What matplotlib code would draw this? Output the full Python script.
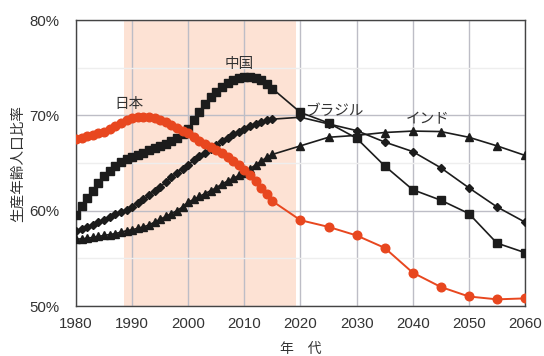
import matplotlib
matplotlib.use("Agg")
import matplotlib.pyplot as plt
from matplotlib.ticker import MultipleLocator, FuncFormatter

plt.rcParams['font.family'] = ['Liberation Sans', 'Noto Sans CJK JP', 'DejaVu Sans']

# Years: annual estimates to 2015, then 5-year projections
years = list(range(1980, 2016)) + list(range(2020, 2061, 5))

japan = [67.5, 67.6, 67.8, 67.9, 68.1, 68.3, 68.6, 68.9, 69.2, 69.5,
         69.7, 69.8, 69.85, 69.8, 69.7, 69.5, 69.3, 69.0, 68.7, 68.4,
         68.1, 67.7, 67.3, 67.0, 66.7, 66.4, 66.0, 65.6, 65.2, 64.8,
         64.3, 63.7, 63.1, 62.4, 61.7, 61.0,
         59.0, 58.3, 57.4, 56.1, 53.5, 52.0, 51.0, 50.7, 50.8]

china = [59.5, 60.5, 61.3, 62.1, 62.9, 63.6, 64.2, 64.7, 65.1, 65.4,
         65.6, 65.8, 66.1, 66.4, 66.6, 66.8, 67.0, 67.3, 67.6, 68.0,
         68.6, 69.5, 70.4, 71.2, 71.9, 72.5, 73.0, 73.4, 73.7, 73.9,
         74.0, 74.0, 73.9, 73.7, 73.3, 72.8,
         70.3, 69.2, 67.6, 64.7, 62.2, 61.1, 59.7, 56.6, 55.6]

brazil = [57.9, 58.1, 58.3, 58.5, 58.8, 59.0, 59.3, 59.6, 59.9, 60.1,
          60.4, 60.8, 61.2, 61.6, 62.1, 62.5, 63.0, 63.5, 64.0, 64.4,
          64.8, 65.3, 65.7, 66.1, 66.5, 66.9, 67.3, 67.6, 68.0, 68.3,
          68.6, 68.9, 69.1, 69.3, 69.5, 69.6,
          69.8, 69.1, 68.4, 67.2, 66.2, 64.5, 62.4, 60.4, 58.8]

india = [57.0, 57.05, 57.1, 57.2, 57.3, 57.4, 57.5, 57.6, 57.75, 57.9,
         58.0, 58.15, 58.3, 58.5, 58.8, 59.1, 59.4, 59.7, 60.0, 60.4,
         60.9, 61.2, 61.5, 61.8, 62.1, 62.4, 62.8, 63.1, 63.4, 63.7,
         64.0, 64.4, 64.8, 65.2, 65.6, 65.9,
         66.8, 67.7, 67.9, 68.2, 68.35, 68.3, 67.7, 66.8, 65.8]

heisei = (1988.6, 2019.2)

fig = plt.figure(figsize=(5.44, 3.56), dpi=100)
ax = fig.add_axes([0.1397, 0.1404, 0.8253, 0.8034])

ax.axvspan(*heisei, color='#fde2d4', zorder=0, lw=0)

ax.set_xlim(1980, 2060)
ax.set_ylim(50, 80)
ax.xaxis.set_major_locator(MultipleLocator(10))
ax.yaxis.set_major_locator(MultipleLocator(10))
ax.yaxis.set_minor_locator(MultipleLocator(5))
ax.yaxis.set_major_formatter(FuncFormatter(lambda v, p: f"{v:.0f}%"))

ax.grid(True, which='major', color='#bdbdc6', lw=1.0, zorder=1)
ax.grid(True, which='minor', axis='y', color='#eeeeee', lw=1.0, zorder=1)
ax.set_axisbelow(True)

ax.tick_params(which='both', length=0, labelsize=10.8, labelcolor='#333333')
ax.tick_params(axis='x', pad=8)
ax.tick_params(axis='y', pad=12)
for s in ax.spines.values():
    s.set_color('#444444')
    s.set_linewidth(1.0)

dark = '#1c1c1c'
ax.plot(years, india, color=dark, lw=1.2, marker='^', ms=6, zorder=3)
ax.plot(years, brazil, color=dark, lw=1.2, marker='D', ms=4.4, zorder=3)
ax.plot(years, china, color=dark, lw=1.2, marker='s', ms=5.2, zorder=3)
ax.plot(years, japan, color='#e8471f', lw=1.4, marker='o', ms=6.2, zorder=4)

tcol = '#333333'
ax.text(1989.4, 71.2, '日本', ha='center', va='center', fontsize=10.5, color=tcol)
ax.text(2009.0, 75.4, '中国', ha='center', va='center', fontsize=10.5, color=tcol)
ax.text(2020.8, 70.45, 'ブラジル', ha='left', va='center', fontsize=10.5, color=tcol)
ax.text(2042.7, 69.6, 'インド', ha='center', va='center', fontsize=10.5, color=tcol)

ax.set_ylabel('生産年齢人口比率', fontsize=10.5, color=tcol, labelpad=3)
ax.set_xlabel('年\u3000代', fontsize=10, color=tcol, labelpad=8)

fig.savefig('out.png', dpi=100)
